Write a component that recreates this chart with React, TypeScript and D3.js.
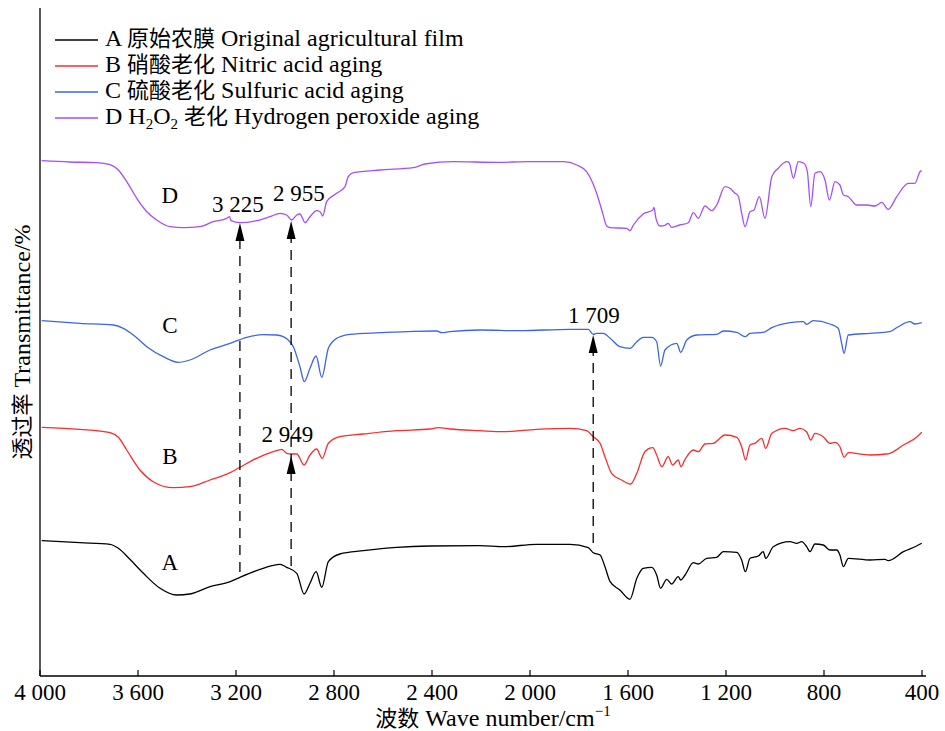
import React from "react";
import * as d3 from "d3";

// wavenumber (cm-1), relative transmittance (arbitrary units)
const seriesA: [number, number][] = [
  [3993, 135.3], [3837, 133.3], [3714, 131.7], [3680, 127.7], [3633, 116.7], [3578, 102.7],
  [3510, 87.7], [3442, 81], [3388, 82], [3306, 89.3], [3224, 94.3], [3184, 98.7],
  [3102, 106.7], [3020, 111.7], [2993, 108.7], [2952, 102.7], [2922, 82], [2898, 92.7],
  [2873, 104.3], [2850, 88.7], [2823, 114.3], [2776, 122], [2680, 125.3], [2544, 128.7],
  [2408, 130], [2204, 130.3], [2109, 129.3], [1973, 131.7], [1837, 131.7], [1762, 128.3],
  [1742, 123.3], [1714, 121], [1694, 109.3], [1673, 94.3], [1633, 86], [1592, 76.7],
  [1564, 97.7], [1538, 107.7], [1503, 108.7], [1483, 101], [1467, 87.7], [1442, 96.7],
  [1422, 92], [1395, 99.3], [1385, 96], [1367, 101], [1333, 113.3], [1313, 112],
  [1279, 117.7], [1238, 118.7], [1211, 124.3], [1156, 123.7], [1136, 116], [1121, 104.3],
  [1102, 117.7], [1068, 120], [1048, 124.3], [1038, 117.7], [1007, 129.3], [939, 134.3],
  [911, 132.7], [891, 134.3], [871, 129.3], [857, 124.3], [837, 132], [803, 131],
  [776, 126], [748, 126], [735, 121], [721, 109.3], [701, 117.7], [612, 116],
  [551, 116.7], [538, 115.3], [476, 124.3], [422, 130], [401, 132.7],
];

const seriesB: [number, number][] = [
  [3993, 248.7], [3837, 246.7], [3714, 243.3], [3680, 238.7], [3646, 226], [3592, 206],
  [3538, 194.3], [3456, 188.3], [3388, 189.3], [3306, 196], [3224, 203.3], [3184, 208.7],
  [3116, 217.7], [3048, 224.3], [3013, 226.7], [2993, 222.7], [2973, 222], [2952, 222],
  [2922, 211], [2898, 221], [2871, 227], [2848, 217.7], [2823, 232.7], [2776, 239.3],
  [2680, 242], [2544, 245.3], [2408, 247], [2374, 248.3], [2327, 247], [2204, 245.3],
  [2109, 244.3], [1973, 246.7], [1837, 247.7], [1769, 245.3], [1742, 239.3], [1714, 232.7],
  [1694, 219.3], [1667, 202.7], [1626, 196], [1589, 192], [1564, 202.7], [1531, 224.3],
  [1499, 228.3], [1483, 221], [1462, 209.3], [1436, 219.3], [1418, 211], [1395, 216],
  [1384, 209.3], [1367, 216.7], [1333, 226], [1313, 224.3], [1286, 232], [1252, 232.7],
  [1204, 241], [1156, 238.7], [1136, 229.3], [1120, 216], [1102, 231], [1082, 232.7],
  [1054, 237.7], [1038, 227.7], [1013, 242.7], [959, 247.7], [925, 245.3], [898, 247.7],
  [871, 244.3], [854, 236], [837, 242.7], [803, 239.3], [776, 232.7], [755, 233.7],
  [735, 229.3], [718, 218.7], [701, 223.3], [612, 221], [544, 222], [531, 222.7],
  [476, 231], [422, 238.7], [401, 243.7],
];

const seriesC: [number, number][] = [
  [3993, 355.3], [3837, 352.7], [3701, 351], [3660, 347.7], [3619, 341], [3564, 329.3],
  [3497, 319.3], [3436, 313.7], [3388, 316], [3306, 326], [3224, 332.7], [3156, 338.7],
  [3089, 341.3], [3034, 341], [2987, 336], [2966, 329.3], [2939, 309.3], [2921, 294.3],
  [2898, 307.7], [2873, 320], [2850, 298.7], [2823, 327.7], [2789, 337.7], [2735, 341.7],
  [2612, 343.3], [2476, 344.7], [2381, 345], [2360, 343.3], [2327, 344.3], [2204, 346],
  [2041, 345.3], [1837, 346.7], [1762, 346.7], [1742, 341.7], [1728, 342.7], [1701, 342.7],
  [1673, 337.7], [1633, 329.3], [1592, 327.7], [1564, 334.3], [1538, 338.7], [1503, 338.7],
  [1483, 334.3], [1467, 310], [1449, 326], [1401, 332.7], [1385, 323.7], [1360, 336],
  [1320, 341], [1238, 341.7], [1211, 345], [1156, 343.7], [1122, 339.3], [1102, 342.7],
  [1048, 343.7], [1013, 348.3], [939, 353.3], [884, 354.3], [871, 351.7], [844, 355.3],
  [776, 352], [742, 347.7], [728, 332.7], [718, 322.7], [701, 341], [612, 342.7],
  [531, 344.3], [497, 349.3], [449, 354.3], [429, 352], [401, 353.3],
];

const seriesD: [number, number][] = [
  [3993, 515.3], [3878, 514], [3769, 513.3], [3714, 511.3], [3680, 506], [3646, 494.3],
  [3605, 477.7], [3564, 464.3], [3524, 456], [3469, 449.3], [3415, 448.3], [3347, 449.3],
  [3293, 454.3], [3238, 457.7], [3227, 459.3], [3220, 455.3], [3184, 453.3], [3116, 455.3],
  [3061, 459.3], [3020, 462.7], [2993, 461], [2973, 456], [2952, 461], [2939, 462],
  [2918, 453.3], [2898, 459.3], [2871, 465.3], [2857, 464.3], [2846, 460], [2830, 474.3],
  [2789, 482.7], [2755, 489.3], [2742, 499.3], [2721, 503.3], [2612, 506], [2476, 508.3],
  [2429, 512], [2313, 514.3], [2136, 513.7], [2000, 514.3], [1864, 514.3], [1809, 511],
  [1769, 504.3], [1728, 482.7], [1707, 466], [1687, 450], [1673, 448.3], [1605, 447.7],
  [1592, 445.3], [1578, 451], [1538, 462], [1499, 466], [1494, 468.7], [1486, 457.7],
  [1469, 450], [1449, 450.7], [1436, 452.7], [1422, 448.7], [1388, 451], [1354, 453.3],
  [1333, 463.3], [1313, 457.7], [1286, 470], [1258, 465.3], [1238, 471], [1204, 489.3],
  [1184, 487.7], [1163, 482.7], [1150, 480], [1136, 462.7], [1122, 449.3], [1102, 464.3],
  [1086, 466], [1064, 479.3], [1041, 457.7], [1013, 499.3], [987, 507.7], [952, 514.3],
  [942, 513.3], [925, 497.7], [905, 514.3], [882, 512.7], [868, 504.3], [854, 469.3],
  [837, 502.7], [816, 504.3], [796, 496], [778, 476], [755, 494.3], [735, 491],
  [721, 481], [701, 479.3], [667, 471], [626, 471], [592, 470], [564, 473.7],
  [538, 466.7], [503, 479.3], [456, 492.7], [429, 492.7], [408, 504.3], [401, 505.3],
];

const seriesData = [seriesA, seriesB, seriesC, seriesD];
const seriesColors = ["#000000", "#ff2a2a", "#3a64f0", "#a64dff"];
const seriesLetters = ["A", "B", "C", "D"];
const legendCn = ["原始农膜", "硝酸老化", "硫酸老化", "老化"];
const legendEn = ["Original agricultural film", "Nitric acid aging", "Sulfuric acid aging", "Hydrogen peroxide aging"];
// curve letter positions [wavenumber, transmittance at baseline]
const letterPos: [number, number][] = [[3470, 106], [3470, 212], [3470, 343], [3470, 473]];

const xTicks = [4000, 3600, 3200, 2800, 2400, 2000, 1600, 1200, 800, 400];
const xTickLabels = ["4 000", "3 600", "3 200", "2 800", "2 400", "2 000", "1 600", "1 200", "800", "400"];

// dashed guide lines: wavenumber, bottom, top
const guideLines: [number, number, number][] = [[3184, 104, 435], [2975, 110, 437], [1742, 133, 323]];
// arrowheads: wavenumber, tip
const arrowTips: [number, number][] = [[3184, 453], [2975, 455], [2975, 220], [1742, 341]];
// peak labels: text, wavenumber of centre, baseline
const peakLabels: [string, number, number][] = [
  ["3 225", 3192, 464], ["2 955", 2943, 475], ["2 949", 2990, 234], ["1 709", 1739, 353],
];

const serif = "'Liberation Serif', 'Times New Roman', 'Noto Sans CJK SC', serif";
const cjk = "'Noto Sans CJK SC', sans-serif";

export default function App() {
  const width = 945;
  const height = 731;
  const x = d3.scaleLinear().domain([4000, 400]).range([40, 922]);
  const y = d3.scaleLinear().domain([0, 668]).range([676, 8]);
  const line = d3
    .line<[number, number]>()
    .x((d) => x(d[0]))
    .y((d) => y(d[1]))
    .curve(d3.curveMonotoneX);

  const headLen = 18;
  const headHalf = 4.5;

  return (
    <svg width={width} height={height} style={{ position: "absolute", left: 0, top: 0 }} fontFamily={serif}>
      <rect width={width} height={height} fill="#fff" />

      {/* axes */}
      <line x1={40} y1={8} x2={40} y2={676} stroke="#000" strokeWidth={1.3} />
      <line x1={40} y1={676} x2={926} y2={676} stroke="#000" strokeWidth={1.3} />
      {xTicks.map((t, i) => (
        <g key={t}>
          <line x1={x(t)} x2={x(t)} y1={676} y2={670} stroke="#000" strokeWidth={1.2} />
          <text x={x(t)} y={700} fontSize={23} textAnchor="middle">
            {xTickLabels[i]}
          </text>
        </g>
      ))}
      <text x={493} y={726} fontSize={24} textAnchor="middle">
        <tspan fontFamily={cjk} fontSize={22}>波数</tspan>
        <tspan> Wave number/cm</tspan>
        <tspan fontSize={15} dy={-10}>−1</tspan>
      </text>
      <text transform="translate(30,342) rotate(-90)" fontSize={24} textAnchor="middle">
        <tspan fontFamily={cjk} fontSize={22}>透过率</tspan>
        <tspan> Transmittance/%</tspan>
      </text>

      {/* spectra */}
      {seriesData.map((s, i) => (
        <path key={i} d={line(s) ?? ""} fill="none" stroke={seriesColors[i]} strokeWidth={1.3} />
      ))}
      {letterPos.map((p, i) => (
        <text key={i} x={x(p[0])} y={y(p[1])} fontSize={23} textAnchor="middle">
          {seriesLetters[i]}
        </text>
      ))}

      {/* guides and arrows */}
      {guideLines.map((g, i) => (
        <line key={i} x1={x(g[0])} x2={x(g[0])} y1={y(g[1])} y2={y(g[2])} stroke="#000" strokeWidth={1.3} strokeDasharray="10,7" />
      ))}
      {arrowTips.map((a, i) => {
        const ax = x(a[0]);
        const ay = y(a[1]);
        return <path key={i} d={`M${ax},${ay}L${ax - headHalf},${ay + headLen}L${ax + headHalf},${ay + headLen}Z`} fill="#000" />;
      })}
      {peakLabels.map((p, i) => (
        <text key={i} x={x(p[1])} y={y(p[2])} fontSize={23} textAnchor="middle">
          {p[0]}
        </text>
      ))}

      {/* legend */}
      {seriesLetters.map((l, i) => (
        <g key={l} transform={`translate(0,${40 + i * 26})`}>
          <line x1={55} x2={98} y1={0} y2={0} stroke={seriesColors[i]} strokeWidth={1.3} />
          <text x={105} y={6} fontSize={24}>
            <tspan>{l} </tspan>
            {i === 3 && (
              <>
                <tspan>H</tspan>
                <tspan fontSize={15} dy={5}>2</tspan>
                <tspan dy={-5}>O</tspan>
                <tspan fontSize={15} dy={5}>2</tspan>
                <tspan dy={-5}> </tspan>
              </>
            )}
            <tspan fontFamily={cjk} fontSize={22}>{legendCn[i]}</tspan>
            <tspan> {legendEn[i]}</tspan>
          </text>
        </g>
      ))}
    </svg>
  );
}
